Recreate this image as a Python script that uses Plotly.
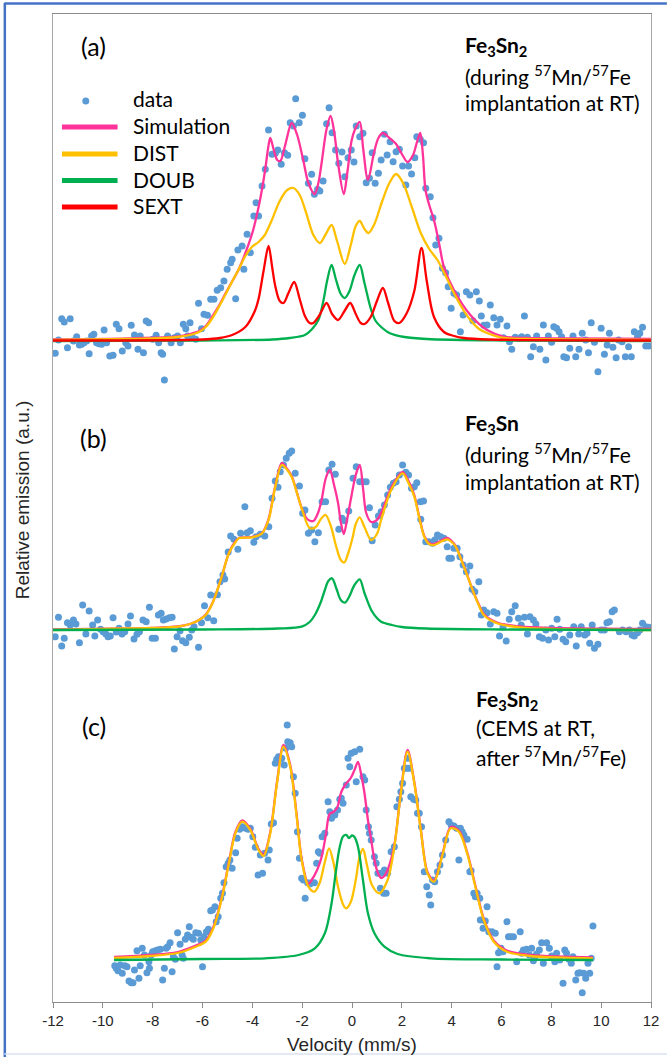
import plotly.graph_objects as go

# ---------------- data (velocity in mm/s, relative emission in a.u.) ----------------
VEL_TICKS = [-12, -10, -8, -6, -4, -2, 0, 2, 4, 6, 8, 10, 12]

# panel (a) measured points
A_VEL = [-11.91,-11.78,-11.65,-11.55,-11.42,-11.31,-11.18,-11.05,-10.94,-10.85,-10.76,-10.65,-10.55,-10.45,-10.36,-10.25,-10.15,-10.05,-9.95,-9.85,
         -9.72,-9.59,-9.46,-9.35,-9.22,-9.08,-8.99,-8.86,-8.73,-8.59,-8.5,-8.37,-8.26,-8.16,-8.0,-7.86,-7.76,-7.66,-7.6,-7.53,
         -7.4,-7.26,-7.13,-7.0,-6.89,-6.77,-6.67,-6.6,-6.5,-6.4,-6.27,-6.16,-6.04,-5.94,-5.8,-5.67,-5.54,-5.41,-5.27,-5.14,
         -5.01,-4.87,-4.81,-4.67,-4.58,-4.41,-4.34,-4.21,-4.08,-3.94,-3.85,-3.75,-3.61,-3.48,-3.35,-3.21,-3.08,-2.98,-2.84,-2.71,
         -2.58,-2.48,-2.35,-2.26,-2.12,-1.99,-1.89,-1.75,-1.62,-1.51,-1.38,-1.29,-1.16,-1.02,-0.92,-0.8,-0.66,-0.53,-0.4,-0.29,
         -0.16,-0.03,0.08,0.17,
         0.31,0.44,0.57,0.7,0.81,0.93,1.06,1.17,1.3,1.41,1.53,1.65,1.77,1.9,2.03,2.16,2.27,2.39,2.52,2.6,
         2.74,2.87,2.96,3.14,3.25,3.36,3.49,3.63,3.76,3.86,3.98,4.09,4.2,4.35,4.46,4.59,4.73,4.85,4.99,5.11,
         5.19,5.29,5.42,5.55,5.69,5.82,5.95,6.08,6.22,6.32,6.41,6.55,6.68,6.81,6.92,7.04,7.17,7.28,7.41,7.54,
         7.68,7.78,7.88,8.01,8.1,8.21,8.31,8.41,8.5,8.61,8.74,8.87,8.98,9.11,9.24,9.38,9.49,9.6,9.73,9.87,
         10.0,10.13,10.24,10.33,10.47,10.6,10.7,10.84,10.97,11.1,11.21,11.33,11.46,11.55,11.66,11.79,11.92]
A_CNT = [-12.3,1,22.3,19,-6.7,22.3,0,4.3,-4,-3.3,-1.7,0,-12.7,5,6.7,-1.7,-2.7,-3.3,11,-1.7,
         -15,-14.3,16.7,12.3,-10,-1.7,-5,15.7,6,-8.3,5,-11.7,20,18.3,1.7,5.7,-1.7,-11.7,-13.3,-39,
         5,-1.7,3.3,5,-1.7,16.7,12.3,5,18.3,3.3,1.7,37.7,12.3,26.7,25.7,41.7,41.7,50.7,53.3,60,
         71.7,78.3,81.7,42.3,91,95,71.7,106.7,88.3,125,138.3,125,155,171.7,211,186.7,187.7,191,176.7,188.3,
         185.7,218.3,215,242.3,218.3,225.7,182.3,157.7,166.7,146.7,151.7,150,160,217.3,233.3,208.3,191,177.7,189,164.3,
         183.3,191,179,215,
         204.3,207.7,158.3,162.7,188.3,157.7,167.7,181,206.7,186,199.3,179.3,189.3,191.7,175,156,175,167,183.3,204.3,
         201.7,198.3,152.7,144.3,123.3,96,102.7,72.7,68.3,54.3,32.7,47.7,46,9.3,26,49.3,46,20.3,49.3,40,
         25,15.7,16,36,23.3,16,21.7,3.3,15,-0.7,-8.3,3.7,2.7,4.3,25,3.7,-15.7,-5.7,5,-8.3,
         16,-19,5,-1.3,14.3,12.7,9.3,4.3,-15.7,-16.7,-7.3,5,-15.7,-8.3,7.7,1,-11.7,18.3,-1.3,-30.7,
         12.7,-13.3,-4,7.7,-6.3,-16.7,1,-0.7,-15.7,-5.7,-15.7,9.3,4.3,7.7,13.7,-5,-5]

# panel (a) fitted curves
A_SIM_V = [-12,-9,-7,-6.5,-6.14,-5.87,-5.6,-5.3,-5.07,-4.8,-4.54,-4.28,-4.0,-3.74,-3.61,-3.48,-3.36,-3.28,-3.15,-3.0,
           -2.88,-2.68,-2.42,-2.2,-1.95,-1.75,-1.5,-1.35,-1.22,-1.02,-0.86,-0.72,-0.55,-0.33,-0.18,-0.02,0.11,0.31,0.45,0.64,
           0.88,1.06,1.24,1.5,1.77,2.0,2.23,2.45,2.62,2.74,2.85,2.95,3.1,3.29,3.5,3.69,4.09,4.75,5.42,6.08,7,9,12]
A_SIM_H = [1.5,2.5,4.5,7,10,15,25,37,48,60,72,88,108,135,152,172,194,203,192,181,
           180,196,218,206,180,158,147,158,178,212,225,210,176,147,170,200,211,219,192,161,
           188,203,208,203,197,187,179,186,200,208,185,151,136,121,97,74,51,26,11,4.5,3,2.5,2]
A_DIST_V = [-12,-9,-8,-7,-6.5,-6.14,-5.87,-5.6,-5.3,-5.07,-4.8,-4.54,-4.28,-4.02,-3.75,-3.5,-3.2,-2.9,-2.6,-2.35,
            -2.1,-1.85,-1.55,-1.29,-1.05,-0.82,-0.6,-0.29,-0.05,0.15,0.31,0.5,0.66,0.9,1.2,1.5,1.77,2.05,2.4,2.76,
            3.1,3.43,3.76,4.09,4.42,4.75,5.1,5.42,6.08,7,9,12]
A_DIST_H = [1,2,2.5,4,6,9,14,23,36,47,60,72,85,94,99,106,122,140,151,153,
            146,129,106,98,107,116,100,77,96,115,120,112,108,117,139,158,167,158,134,108,
            92,81,65,48,33,21,12,8,3,2,1.5,1]
A_DOUB_V = [-12,-6,-3.2,-2.5,-1.89,-1.6,-1.35,-1.15,-1.0,-0.82,-0.65,-0.45,-0.29,-0.1,0.1,0.31,0.5,0.77,0.95,1.17,1.5,2.1,3,6,12]
A_DOUB_H = [0,0.5,1.5,3,6,12,21,40,60,76,62,47,43,50,66,76,58,31,20,14,8,4,2,0.5,0]
A_SEXT_V = [-12,-6,-5.3,-4.81,-4.28,-3.9,-3.75,-3.55,-3.35,-3.2,-3.08,-2.9,-2.75,-2.55,-2.32,-2.1,-1.89,-1.7,-1.55,-1.3,
            -1.02,-0.8,-0.56,-0.3,-0.07,0.15,0.35,0.5,0.75,1.0,1.24,1.45,1.7,1.9,2.2,2.5,2.79,3.0,3.29,3.69,4.1,4.49,5.5,12]
A_SEXT_H = [0.5,1.5,3,6,14,30,42,70,95,73,55,40,38,48,59,42,25,18,18,26,
            38,27,21,30,38,27,18,17,24,40,53,38,20,18,28,50,93,60,24,9,5,3,1.5,0.5]

# panel (b) measured points
B_VEL = [-11.91,-11.78,-11.65,-11.55,-11.42,-11.31,-11.18,-11.08,-10.94,-10.81,-10.68,-10.55,-10.41,-10.32,-10.21,-10.09,-9.99,-9.88,-9.79,-9.7,
         -9.59,-9.46,-9.35,-9.23,-9.12,-8.99,-8.89,-8.75,-8.63,-8.53,-8.39,-8.26,-8.13,-8.02,-7.89,-7.77,-7.66,-7.57,-7.46,-7.33,
         -7.22,-7.13,-7.02,-6.9,-6.8,-6.67,-6.53,-6.43,-6.34,-6.16,-6.04,-5.92,-5.79,-5.67,-5.55,-5.4,-5.3,-5.18,-5.11,-4.97,
         -4.87,-4.74,-4.58,-4.47,-4.3,-4.21,-4.08,-3.94,-3.85,-3.68,-3.5,-3.34,-3.21,-3.08,-2.97,-2.88,-2.75,-2.64,-2.52,-2.42,
         -2.28,-2.11,-1.98,-1.89,-1.75,-1.62,-1.49,-1.35,-1.2,-1.06,-0.93,-0.8,-0.67,-0.53,-0.4,-0.29,-0.13,0.04,
         0.17,0.31,0.44,0.57,0.7,0.81,0.93,1.06,1.17,1.3,1.43,1.54,1.66,1.77,1.9,2.03,2.16,2.27,2.39,2.5,
         2.6,2.74,2.76,2.87,2.96,3.09,3.23,3.32,3.43,3.56,3.69,3.82,3.89,3.99,4.09,4.22,4.33,4.46,4.59,4.73,
         4.82,4.93,5.09,5.19,5.29,5.42,5.55,5.69,5.82,5.92,6.06,6.19,6.31,6.41,6.55,6.68,6.79,6.92,7.04,7.14,
         7.28,7.38,7.52,7.65,7.78,7.89,8.01,8.14,8.23,8.34,8.47,8.58,8.74,8.9,9.0,9.1,9.2,9.34,9.43,9.54,
         9.64,9.73,9.87,10.0,10.13,10.23,10.33,10.44,10.53,10.73,10.86,11.0,11.13,11.24,11.33,11.46,11.55,11.66,11.79,11.92]
B_CNT = [-6.7,12.7,-16,-8.3,7.3,5,10,6,-12.7,25,-4,19,5,-6,10,0.7,-1.7,-4,-6.7,-6,
         12.3,-2,1.7,-4,-1.7,6,14,-9,-4.3,-1.7,10,8.3,22.7,-8.3,-8.3,15,16.7,10,11,12.3,
         12.7,-19,-6.7,-0.7,-10.7,-12.7,-7.3,0,3.3,-17.3,7.3,24.3,12.3,35,9.3,35.3,48.3,55,51,78,
         94,90.7,80.7,96.7,123.3,97.3,99.3,87.7,93.3,95.7,94,103.3,131.7,149,142.7,158.3,165,171.7,176.7,179,
         156.7,144,116.7,120,96.7,100,88.3,97.3,128.3,128.3,160,165.7,155.7,100.7,111.7,109.3,119,151.7,
         163.3,148.3,148.3,148.3,122.3,89.3,105,114,118.3,125,135,142.7,146.7,148.3,155,165,157.7,155,141.7,143.3,
         147.3,128.3,110.7,129,88.3,88.3,86.7,90,95,93.3,91.7,83.3,71.7,71.7,81.7,81.7,73.3,65,58.3,64,
         40.7,38.3,48.3,15,20,17.3,6,18.3,16.7,-6,3.3,-11,10.7,18.3,24.3,11.7,5,12.7,-4,13.3,
         10,6,-6.7,-8.3,0,-10,1.7,-6.7,10.7,0.7,-9.3,-11.7,-5,3.3,-16,-4,3.3,-5,-3.3,-13.3,
         5,-18.3,-14.3,0,0,7.3,8.3,18.3,20,-1.7,0,-1.7,0,-5,-6,-2.7,0,6.7,3.3,2.7]

# panel (b) fitted curves
B_SIM_V = [-12,-9,-8,-7,-6.5,-6.14,-5.87,-5.6,-5.27,-4.94,-4.7,-4.54,-4.01,-3.61,-3.35,-3.08,-2.82,-2.6,-2.42,-2.02,
           -1.8,-1.55,-1.35,-1.22,-1.05,-0.89,-0.72,-0.56,-0.45,-0.33,-0.2,-0.03,0.15,0.31,0.45,0.57,0.77,1.0,1.17,1.57,
           2.03,2.25,2.5,2.7,2.9,3.1,3.29,3.55,3.82,4.0,4.16,4.49,4.89,5.1,5.29,5.82,6.75,8,12]
B_SIM_H = [0.5,1.5,2,3.5,6,10,15.5,27,50,77,88,92,93,97,111,144,167,161,154,122,
           111,109,118,130,152,160,145,127,108,96,110,133,155,165,140,117,108,110,117,142,
           158,150,135,113,94,87,86,89,92,89,84,64,37,25,16,7.5,3.5,2,1]
B_DIST_V = [-12,-9,-8,-7,-6.5,-6.14,-5.87,-5.6,-5.27,-4.94,-4.7,-4.54,-4.01,-3.61,-3.35,-3.08,-2.82,-2.6,-2.42,-2.02,
            -1.69,-1.45,-1.25,-1.06,-0.85,-0.65,-0.45,-0.31,-0.15,0.03,0.15,0.31,0.5,0.77,1.0,1.17,1.57,2.03,2.25,2.5,
            2.7,2.9,3.1,3.29,3.55,3.82,4.0,4.16,4.49,4.89,5.1,5.29,5.82,6.75,8,12]
B_DIST_H = [0,1.5,2,3.3,6,10,15,26.7,50,76.7,87,91.7,92.7,96.7,110,143,165,160,153,121.7,
            101.7,103,111,115,104,85,70,67.5,77,93,106,112.7,103,90,96,110,140,156.7,148,133.3,
            112,93.3,86,85,88,90.7,88,83.3,63.3,36.7,24,15,6.7,2.7,1,0]
B_DOUB_V = [-12,-6,-3,-2.02,-1.7,-1.49,-1.25,-1.09,-0.95,-0.8,-0.62,-0.45,-0.29,-0.12,0.1,0.31,0.5,0.77,1.0,1.17,1.6,2,3,6,12]
B_DOUB_H = [0,0.5,1.5,3.3,8,15,28,40,49,51.7,41,30,27.3,33,45,50.7,37,20,12,8.3,5,3,1.5,0.5,0]

# panel (c) measured points
C_VEL = [-9.52,-9.46,-9.39,-9.3,-9.22,-9.12,-9.03,-8.95,-8.86,-8.79,-8.73,-8.63,-8.55,-8.5,-8.42,-8.33,-8.23,-8.15,-8.13,-8.06,
         -8.0,-7.89,-7.8,-7.69,-7.6,-7.53,-7.46,-7.4,-7.3,-7.22,-7.17,-7.09,-7.0,-6.9,-6.82,-6.77,-6.69,-6.6,-6.53,-6.47,
         -6.37,-6.27,-6.16,-6.07,-6.0,-5.94,-5.84,-5.76,-5.67,-5.6,-5.5,-5.45,-5.37,-5.27,-5.2,-5.14,-5.05,-4.97,-4.9,-4.81,
         -4.67,-4.61,-4.51,-4.41,-4.27,-4.17,-4.08,-3.98,-3.88,-3.77,-3.68,-3.59,-3.51,-3.37,-3.32,-3.24,-3.15,-3.08,-3.02,-2.95,
         -2.88,-2.82,-2.72,-2.66,-2.58,-2.48,-2.42,-2.35,-2.28,-2.19,-2.11,-2.02,-1.95,-1.88,-1.78,-1.69,-1.62,-1.51,-1.42,-1.35,
         -1.29,-1.2,-1.09,-0.96,-0.89,-0.82,-0.69,-0.58,-0.49,-0.43,-0.36,-0.23,-0.16,-0.09,-0.03,0.11,0.17,0.31,0.44,0.51,
         0.57,0.66,0.7,0.77,0.9,0.97,1.04,1.14,1.17,1.27,1.3,1.37,1.43,1.57,1.7,1.8,1.9,1.96,2.03,2.1,
         2.2,2.23,2.3,2.36,2.47,2.56,2.63,2.7,2.79,2.9,3.0,3.1,3.16,3.23,3.32,3.43,3.53,3.63,3.76,3.89,
         3.98,4.09,4.2,4.29,4.35,4.42,4.49,4.62,4.73,4.78,4.89,4.95,5.02,5.13,5.15,5.26,5.35,5.42,5.49,5.62,
         5.75,5.82,5.88,5.98,6.06,6.22,6.28,6.37,6.48,6.61,6.75,6.81,6.88,7.01,7.12,7.21,7.28,7.34,7.41,7.52,
         7.61,7.68,7.81,7.92,8.01,8.14,8.21,8.34,8.47,8.54,8.61,8.71,8.8,8.87,8.98,9.07,9.14,9.24,9.3,9.38,
         9.47,9.54,9.6,9.67,-2.6]
C_CNT = [-5.7,-8.3,-10.7,-5,-13.3,-5.7,-6.7,-21,-22.7,-22.7,-10,9.3,-18.3,-5.7,11.7,5,-12.7,-1.7,-8.3,5,
         8.3,9.3,10,10.7,-20,-8.3,11.7,13.3,17.3,-11.7,3.3,0.7,27.3,15.7,5,1.7,20.7,25,33.3,22.7,
         20.7,27.3,26.7,20,-6.7,23.3,28.3,30.7,49.3,50,53.3,38.3,43.3,61.7,66.7,77.3,93.3,96.7,100,91.7,
         107.3,121.7,130.7,133.3,131.7,130.7,131.7,123.3,112.7,85,105,86.7,106.7,100,110,136,137.3,196.7,200.7,203.3,
         200.7,201.7,195,211.7,218.3,217.3,213.3,183.3,166.7,128.3,101.7,81.7,80,61.7,77.3,76,77.3,77.3,96.7,108.3,
         106.7,123.3,126.7,158.3,148.3,141.7,145,150,160.7,161.7,156.7,175,201.7,193.3,206.7,208.3,178.3,210.7,183.3,180,
         150,133.3,126.7,120,103.3,96.7,86.7,71.7,86.7,66.7,90,66.7,86.7,108.3,113.3,153.3,160.7,168.3,176.7,191.7,
         191.7,201.7,191.7,163.3,160.7,160,146.7,146.7,133.3,88.3,73.3,65,55,80,78.3,88.3,95,105,120,138.3,
         135,134,131.7,100,131.7,128.3,125,120.7,88.3,89.3,66.7,63.3,66.7,61.7,40,31.7,39,53.3,28.3,28.3,
         26.7,-6.7,7.3,11.7,8.3,38.3,23.3,23.3,23.3,-1.7,28.3,6.7,10,10.7,5,11.7,-0.7,3.3,6,10,
         17.3,-3.3,17.3,11.7,4,-1.7,6.7,0,-23.3,10,6.7,0.7,-3.3,3.3,-20,-13.3,-12.7,-32.7,-13.3,-18.3,
         -3.3,-13.3,1.7,34,235]

# panel (c) fitted curves
C_SIM_V = [-9.55,-8.13,-7,-6.27,-5.87,-5.54,-5.21,-4.94,-4.68,-4.41,-4.08,-3.75,-3.55,-3.28,-3.01,-2.75,-2.48,-2.22,-2.02,-1.75,
           -1.62,-1.4,-1.22,-1.05,-0.9,-0.75,-0.6,-0.43,-0.25,-0.05,0.1,0.24,0.38,0.5,0.64,0.77,0.9,1.04,1.17,1.3,
           1.43,1.7,1.96,2.23,2.5,2.76,3.03,3.29,3.63,3.96,4.29,4.62,4.95,5.29,5.69,6.22,7.15,8.48,9.67]
C_SIM_H = [3,5,8,14.5,19.5,34.5,64.5,98,128,139.5,131,111,105.5,128,178,215,195,145,101,76,
           80,90,103,125,146,148,152,168,176,182,190,198,184,167,140,120,100,87,82,84,
           90,115,168,210,178,131,88,79.5,106,133,129.5,108,74.5,41,19.5,9.5,5,3.3,2.7]
C_DIST_V = [-9.55,-8.13,-7,-6.27,-5.87,-5.54,-5.21,-4.94,-4.68,-4.41,-4.08,-3.75,-3.55,-3.28,-3.01,-2.75,-2.48,-2.22,-2.02,-1.75,
            -1.51,-1.3,-1.1,-0.92,-0.75,-0.55,-0.35,-0.23,-0.05,0.15,0.3,0.44,0.6,0.8,1.1,1.43,1.7,1.96,2.23,2.5,
            2.76,3.03,3.29,3.63,3.96,4.29,4.62,4.95,5.29,5.69,6.22,7.15,8.48,9.67]
C_DIST_H = [2,4,7,13.3,18.3,33.3,63.3,96.7,126.7,138.3,130,110,104,126.7,176.7,213.3,193.3,143.3,100,73.3,
            68.3,77,97,111.7,98,72,55,51.7,58,80,103,111,95,75,66.7,80,113.3,166.7,208.3,176.7,
            130,86.7,78.3,105,131.7,128.3,106.7,73.3,40,18.3,8.3,4,2.3,1.7]
C_DOUB_V = [-9.55,-6,-3.48,-2.15,-1.49,-1.09,-0.82,-0.65,-0.5,-0.36,-0.23,-0.12,0.0,0.1,0.24,0.44,0.64,0.9,1.3,1.83,3.16,6,9.67]
C_DOUB_H = [0,1,1.7,5,11.7,26.7,56.7,88,112,123.5,125,122,124.5,123,113.3,80,46.7,26.7,13.3,6,1.7,0.5,0]

# vertical offsets of the three stacked spectra (a.u.)
OFFSETS = {"a": 661, "b": 372, "c": 42}

# ---------------- styling ----------------
BLUE = "#5B9BD5"
PINK = "#FF3399"
YELLOW = "#FFC000"
GREEN = "#00B050"
RED = "#FF0000"
LW = 2.3

# plot area in pixels (for placing text / frame decorations)
FIG_W, FIG_H = 671, 1057
PL, PR, PT, PB = 53, 655, 14, 1002


def px_x(px):
    return (px - PL) / (PR - PL)


def px_y(py):
    return (PB - py) / (PB - PT)


fig = go.Figure()


def add_points(vel, cnt, off):
    fig.add_trace(go.Scatter(x=vel, y=[c + off for c in cnt], mode="markers",
                             marker=dict(color=BLUE, size=7, line=dict(width=0)),
                             showlegend=False, hoverinfo="skip"))


def add_curve(vel, h, off, color):
    fig.add_trace(go.Scatter(x=vel, y=[v + off for v in h], mode="lines",
                             line=dict(color=color, width=LW, shape="spline", smoothing=0.9),
                             showlegend=False, hoverinfo="skip"))


# panel (a)
add_points(A_VEL, A_CNT, OFFSETS["a"])
add_curve(A_SIM_V, A_SIM_H, OFFSETS["a"], PINK)
add_curve(A_DIST_V, A_DIST_H, OFFSETS["a"], YELLOW)
add_curve(A_DOUB_V, A_DOUB_H, OFFSETS["a"], GREEN)
add_curve(A_SEXT_V, A_SEXT_H, OFFSETS["a"], RED)
# panel (b)
add_points(B_VEL, B_CNT, OFFSETS["b"])
add_curve(B_SIM_V, B_SIM_H, OFFSETS["b"], PINK)
add_curve(B_DIST_V, B_DIST_H, OFFSETS["b"], YELLOW)
add_curve(B_DOUB_V, B_DOUB_H, OFFSETS["b"], GREEN)
# panel (c)
add_points(C_VEL, C_CNT, OFFSETS["c"])
add_curve(C_SIM_V, C_SIM_H, OFFSETS["c"], PINK)
add_curve(C_DIST_V, C_DIST_H, OFFSETS["c"], YELLOW)
add_curve(C_DOUB_V, C_DOUB_H, OFFSETS["c"], GREEN)

CAL = "Lato, 'Open Sans', sans-serif"
ARIAL = "'Liberation Sans', Arial, sans-serif"

annotations = []


def text(px, py, s, size, anchor="left", font=CAL, color="#000000", angle=0):
    annotations.append(dict(x=px_x(px), y=px_y(py), xref="paper", yref="paper", text=s,
                            showarrow=False, xanchor=anchor, yanchor="middle", textangle=angle,
                            font=dict(family=font, size=size, color=color)))


# panel labels
text(94, 46, "(a)", 25, "center")
text(94, 438, "(b)", 25, "center")
text(94, 726, "(c)", 25, "center")

# panel descriptions
text(466, 46, "<b>Fe<sub>3</sub>Sn<sub>2</sub></b>", 21)
text(466, 75, "(during <sup>57</sup>Mn/<sup>57</sup>Fe", 21)
text(466, 103, "implantation at RT)", 21)
text(466, 424, "<b>Fe<sub>3</sub>Sn</b>", 21)
text(466, 453, "(during <sup>57</sup>Mn/<sup>57</sup>Fe", 21)
text(466, 481, "implantation at RT)", 21)
text(477, 700, "<b>Fe<sub>3</sub>Sn<sub>2</sub></b>", 21)
text(477, 727, "(CEMS at RT,", 21)
text(477, 756, "after <sup>57</sup>Mn/<sup>57</sup>Fe)", 21)

# legend
LEG_ITEMS = ["data", "Simulation", "DIST", "DOUB", "SEXT"]
LEG_COLORS = [BLUE, PINK, YELLOW, GREEN, RED]
LEG_Y = [98, 126, 153, 179.5, 206]
shapes = []
for name, col, ly in zip(LEG_ITEMS, LEG_COLORS, LEG_Y):
    text(132, ly, name, 21)
    if name == "data":
        shapes.append(dict(type="circle", xref="paper", yref="paper",
                           x0=px_x(82.5), x1=px_x(89.5), y0=px_y(104.5), y1=px_y(97.5),
                           fillcolor=col, line=dict(width=0)))
    else:
        shapes.append(dict(type="line", xref="paper", yref="paper",
                           x0=px_x(62), x1=px_x(118), y0=px_y(ly + 1), y1=px_y(ly + 1),
                           line=dict(color=col, width=5)))

# axis titles
text(22, 500, "Relative emission (a.u.)", 19, "center", ARIAL, "#262626", -90)
text(354, 1044, "Velocity (mm/s)", 19, "center", ARIAL, "#262626")

# outer blue frame of the figure
shapes.append(dict(type="line", xref="paper", yref="paper", x0=px_x(4.5), x1=px_x(4.5),
                   y0=px_y(3), y1=px_y(1057), line=dict(color="#4472C4", width=2.5)))
shapes.append(dict(type="line", xref="paper", yref="paper", x0=px_x(4), x1=px_x(671),
                   y0=px_y(3.5), y1=px_y(3.5), line=dict(color="#4472C4", width=2.5)))
shapes.append(dict(type="line", xref="paper", yref="paper", x0=px_x(4), x1=px_x(671),
                   y0=px_y(1054), y1=px_y(1054), line=dict(color="#DAE3F3", width=1.5)))

fig.update_layout(
    width=FIG_W, height=FIG_H,
    margin=dict(l=PL, r=FIG_W - PR, t=PT, b=FIG_H - PB, pad=0),
    paper_bgcolor="white", plot_bgcolor="white",
    showlegend=False,
    annotations=annotations,
    shapes=shapes,
    xaxis=dict(range=[-12, 12], tickmode="array", tickvals=VEL_TICKS,
               ticktext=[str(t) for t in VEL_TICKS],
               showgrid=False, zeroline=False, showline=True, linecolor="#8C8C8C", linewidth=1,
               mirror=True, ticks="outside", ticklen=5, tickcolor="#8C8C8C",
               tickfont=dict(family=ARIAL, size=15, color="#262626")),
    yaxis=dict(range=[0, PB - PT], showgrid=False, zeroline=False, showline=True,
               linecolor="#A6A6A6", linewidth=1, mirror=True, showticklabels=False, ticks=""),
)

# remove the page's default body margin so the figure sits at the window's corner
fig.write_html("out.html", config={"displayModeBar": False, "staticPlot": True},
               post_script="document.body.style.margin='0px';")
